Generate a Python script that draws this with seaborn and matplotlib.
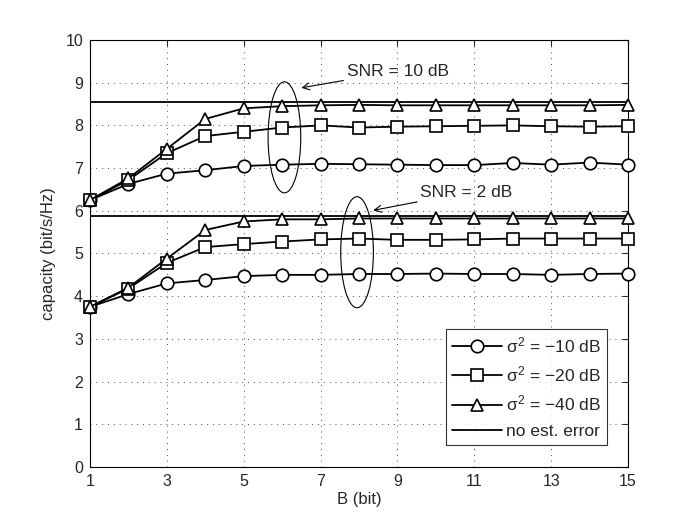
import matplotlib
matplotlib.use("Agg")
import matplotlib.pyplot as plt
import seaborn as sns
import numpy as np
import pandas as pd
from matplotlib.patches import Ellipse

B = list(range(1, 16))
# SNR = 10 dB
snr10_s10 = [6.25, 6.63, 6.87, 6.95, 7.05, 7.08, 7.10, 7.09, 7.08, 7.07, 7.07, 7.12, 7.08, 7.13, 7.08]
snr10_s20 = [6.25, 6.72, 7.35, 7.75, 7.85, 7.95, 8.00, 7.95, 7.97, 7.98, 7.99, 8.00, 7.98, 7.97, 7.98]
snr10_s40 = [6.25, 6.76, 7.45, 8.15, 8.40, 8.45, 8.47, 8.48, 8.47, 8.47, 8.47, 8.47, 8.47, 8.47, 8.48]
snr10_noerr = 8.55
# SNR = 2 dB
snr2_s10 = [3.75, 4.05, 4.30, 4.38, 4.47, 4.50, 4.50, 4.52, 4.52, 4.53, 4.52, 4.52, 4.50, 4.52, 4.53]
snr2_s20 = [3.75, 4.18, 4.78, 5.15, 5.22, 5.28, 5.33, 5.35, 5.32, 5.32, 5.33, 5.35, 5.35, 5.35, 5.35]
snr2_s40 = [3.75, 4.20, 4.88, 5.55, 5.75, 5.80, 5.80, 5.82, 5.82, 5.82, 5.82, 5.82, 5.82, 5.82, 5.82]
snr2_noerr = 5.88

labels = [r"$\sigma^2$ = −10 dB", r"$\sigma^2$ = −20 dB", r"$\sigma^2$ = −40 dB", "no est. error"]
markers = ["o", "s", "^"]

sns.set_style("white")
plt.rcParams['font.family'] = ['Liberation Sans', 'DejaVu Sans']
plt.rcParams['mathtext.fontset'] = 'custom'
plt.rcParams['mathtext.rm'] = 'Liberation Sans'
plt.rcParams['mathtext.it'] = 'Liberation Sans'

FS = 12.5
TFS = 11.5

fig = plt.figure(figsize=(6.92, 5.31), dpi=100)
ax = fig.add_axes([0.130, 0.1205, 0.7775, 0.8042])

series = [(snr10_s10, snr2_s10), (snr10_s20, snr2_s20), (snr10_s40, snr2_s40)]
for i, (hi, lo) in enumerate(series):
    for j, ys in enumerate((hi, lo)):
        df = pd.DataFrame({"B": B, "C": ys})
        sns.lineplot(data=df, x="B", y="C", ax=ax, color="k", marker=markers[i],
                     markersize=9 if markers[i] != "s" else 8, markerfacecolor="white",
                     markeredgecolor="k", markeredgewidth=1.2, linewidth=1.3,
                     label=labels[i] if j == 0 else None, legend=False, zorder=3,
                     clip_on=False)

ax.axhline(snr10_noerr, color="k", linewidth=1.3, zorder=2, label=labels[3])
ax.axhline(snr2_noerr, color="k", linewidth=1.3, zorder=2)

ax.add_patch(Ellipse((6.06, 7.72), 0.85, 2.6, fill=False, edgecolor="k", linewidth=0.8))
ax.add_patch(Ellipse((7.95, 5.03), 0.85, 2.6, fill=False, edgecolor="k", linewidth=0.8))

ax.annotate("SNR = 10 dB", xy=(6.5, 8.88), xytext=(7.68, 9.27), fontsize=FS,
            va="center", ha="left",
            arrowprops=dict(arrowstyle="->", color="k", lw=0.8, shrinkA=0, shrinkB=0))
ax.annotate("SNR = 2 dB", xy=(8.37, 6.01), xytext=(9.6, 6.43), fontsize=FS,
            va="center", ha="left",
            arrowprops=dict(arrowstyle="->", color="k", lw=0.8, shrinkA=0, shrinkB=0))

ax.set_xlim(1, 15)
ax.set_ylim(0, 10)
ax.set_xticks(range(1, 16, 2))
ax.set_yticks(range(0, 11))
ax.set_xlabel("B (bit)", fontsize=12, labelpad=2)
ax.set_ylabel("capacity (bit/s/Hz)", fontsize=12, labelpad=7)
ax.tick_params(direction="in", top=True, right=True, labelsize=TFS, length=4, width=0.8, pad=5)
ax.grid(True, linestyle=(0, (1, 5)), color="0.3", linewidth=0.7)
for s in ax.spines.values():
    s.set_color("k")
    s.set_linewidth(0.8)

h, l = ax.get_legend_handles_labels()
order = [labels.index(x) for x in l]
pairs = sorted(zip(order, h, l))
leg = ax.legend([p[1] for p in pairs], [p[2] for p in pairs], loc="upper left",
                bbox_to_anchor=((446 - 90) / 538, (467 - 329) / 427), borderaxespad=0,
                fontsize=FS, frameon=True,
                fancybox=False, edgecolor="k", handlelength=2.9, borderpad=0.35,
                labelspacing=0.55, handletextpad=0.2)
leg.get_frame().set_linewidth(0.8)

fig.savefig("out.png", dpi=100)
